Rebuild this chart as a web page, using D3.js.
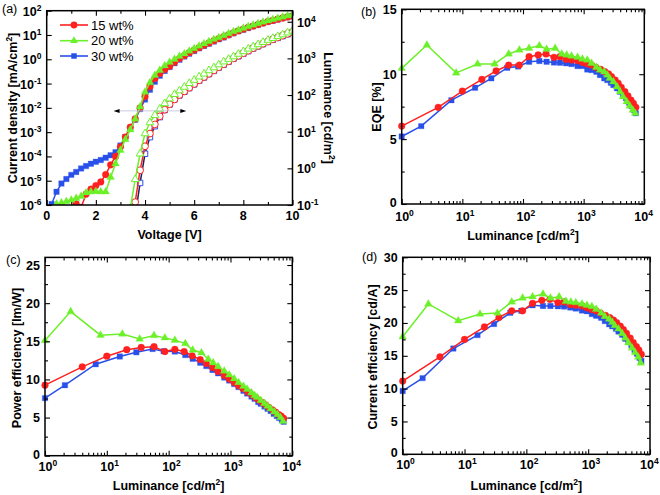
<!DOCTYPE html>
<html><head><meta charset="utf-8">
<script src="https://cdn.jsdelivr.net/npm/d3@7"></script>
<style>
body{margin:0;background:#fff;}
svg{display:block;font-family:"Liberation Sans",Arial,Helvetica,sans-serif;}
</style></head><body>
<svg id="chart" width="660" height="495"></svg>
<script>
// ---------------- DATA ----------------
const seriesNames = ["15 wt%", "20 wt%", "30 wt%"];

// Panel (a): voltage steps (V)
const voltage = [0.2,0.4,0.6,0.8,1.0,1.2,1.4,1.6,1.8,2.0,2.2,2.4,2.6,2.8,3.0,3.2,3.4,3.6,3.8,4.0,4.2,4.4,4.6,4.8,5.0,5.2,5.4,5.6,5.8,6.0,6.2,6.4,6.6,6.8,7.0,7.2,7.4,7.6,7.8,8.0,8.2,8.4,8.6,8.8,9.0,9.2,9.4,9.6,9.8,10.0];
// Current density (mA/cm2)
const jRed = [null,null,null,null,null,1.1e-6,8e-7,2.8e-6,4.5e-6,6.3e-6,8.9e-6,1.8e-5,4.5e-5,1.0e-4,2.5e-4,6.3e-4,1.6e-3,3.5e-3,1.0e-2,2.9e-2,7.6e-2,0.16,0.26,0.38,0.52,0.76,1.07,1.41,1.86,2.4,3.0,3.8,4.7,5.8,7.1,8.5,10.2,12.3,14.8,17.4,20.4,23.4,26.9,30.9,35.5,39.8,44.7,50.1,55.0,60.0];
const jGreen = [null,1.1e-6,1.25e-6,1.4e-6,1.6e-6,1.9e-6,2.3e-6,3.2e-6,3.5e-6,3.6e-6,3.5e-6,3.5e-6,1.4e-5,5.0e-5,1.8e-4,5.0e-4,1.26e-3,3.5e-3,1.1e-2,4.5e-2,0.11,0.22,0.35,0.54,0.76,1.0,1.32,1.7,2.2,2.8,3.5,4.4,5.4,6.6,7.9,9.5,11.5,13.8,16.2,19.1,22.4,25.7,29.5,33.9,38.9,43.7,49.0,55.0,61.7,69.2];
const jBlue = [1.1e-6,3.5e-6,7.6e-6,1.17e-5,1.74e-5,2.3e-5,3.2e-5,4.0e-5,5.0e-5,6.0e-5,7.1e-5,8.9e-5,1.12e-4,1.5e-4,2.8e-4,6.3e-4,1.4e-3,3.2e-3,8.9e-3,2.2e-2,5.6e-2,0.12,0.21,0.33,0.48,0.69,0.95,1.29,1.7,2.19,2.82,3.55,4.37,5.37,6.61,7.94,9.77,11.7,14.1,16.6,19.5,22.9,26.3,30.2,34.7,38.9,43.7,49.0,55.0,61.7];
// Luminance vs voltage (cd/m2)
const lvRed = [null,null,null,null,null,null,null,null,null,null,null,null,null,null,null,null,null,0.12,0.89,4.0,8.9,15.8,26.3,39.8,56.2,75.9,100,126,158,200,251,309,380,468,575,692,832,1000,1175,1380,1622,1905,2188,2512,2884,3311,3715,4169,4677,5248];
const lvGreen = [null,null,null,null,null,null,null,null,null,null,null,null,null,null,null,null,0.08,0.5,2.5,8.9,17.8,28.2,41.7,58.9,79.4,105,132,166,209,257,316,380,468,562,676,813,955,1122,1318,1549,1820,2089,2399,2754,3162,3548,3981,4467,5012,5623];
const lvBlue = [null,null,null,null,null,null,null,null,null,null,null,null,null,null,null,null,null,0.05,0.4,2.5,7.1,14.1,25,39,55,75.9,97.7,123,155,195,245,302,372,457,562,676,813,977,1148,1349,1585,1862,2138,2455,2818,3236,3631,4074,4571,5129];

// Panels (b)-(d): luminance (cd/m2) per series
const lumRed = [1,4.0,10,21,36,58,87,126,178,240,324,407,513,631,794,955,1148,1349,1585,1905,2239,2570,2884,3311,3715,4169,4786,5370,6026,6607,7244];
const lumGreen = [1,2.6,7.9,17.8,34,58,87,126,186,245,339,437,525,631,794,955,1148,1349,1622,1862,2188,2455,2692,3090,3548,3981,4467,5129,5754,6457,7079];
const lumBlue = [1,2.1,6.6,16.2,30,55,83,126,186,245,324,407,513,631,794,955,1148,1349,1622,1862,2188,2455,2818,3090,3548,3981,4467,5012,5623,6166,6761,7244];
// EQE (%)
const eqeRed = [6.0,7.45,8.7,9.6,10.25,10.7,10.7,11.35,11.48,11.56,11.3,11.35,11.15,11.09,11.04,10.91,10.79,10.7,10.53,10.37,10.19,10.02,9.81,9.55,9.3,8.99,8.65,8.32,8.01,7.76,7.45];
const eqeGreen = [10.45,12.25,10.1,10.79,10.79,11.56,11.86,12.0,12.2,11.92,12.0,11.56,11.48,11.4,11.3,11.17,11.09,10.84,10.53,10.32,10.19,9.94,9.68,9.42,9.04,8.65,8.27,7.88,7.55,7.24,6.99];
const eqeBlue = [5.2,6.0,8.0,8.95,9.68,10.5,10.6,10.96,11.02,10.96,10.91,10.89,10.84,10.79,10.63,10.63,10.37,10.32,10.19,9.94,9.68,9.55,9.35,9.17,8.91,8.65,8.4,8.14,7.8,7.55,7.24,6.99];
// Power efficiency (lm/W)
const peRed = [9.25,11.65,13.05,13.9,14.2,14.3,13.65,13.95,13.65,13.1,12.6,12.1,11.55,11.05,10.5,10.05,9.6,9.2,8.8,8.35,7.95,7.6,7.3,6.95,6.65,6.35,6.0,5.7,5.4,5.2,4.9];
const peGreen = [15.1,18.9,15.8,15.95,15.3,15.75,15.45,15.15,14.7,13.85,13.5,12.65,12.2,11.7,11.1,10.6,10.1,9.6,9.1,8.7,8.25,7.9,7.65,7.25,6.85,6.5,6.15,5.75,5.4,5.0,4.5];
const peBlue = [7.55,9.25,12.0,13.0,13.55,14.0,13.7,13.65,13.2,12.7,12.2,11.75,11.25,10.8,10.25,9.85,9.4,9.0,8.5,8.15,7.75,7.45,7.05,6.8,6.45,6.15,5.85,5.5,5.2,4.95,4.7,4.45];
// Current efficiency (cd/A)
const ceRed = [11.15,14.85,17.5,19.4,20.85,21.85,21.85,23.0,23.45,23.6,23.1,23.2,22.8,22.7,22.6,22.3,22.05,21.85,21.5,21.15,20.8,20.45,20.05,19.5,19.0,18.4,17.7,17.0,16.4,15.85,15.2];
const ceGreen = [17.9,22.9,20.35,21.35,21.5,23.2,23.8,24.0,24.4,23.8,24.0,23.3,23.2,23.1,22.9,22.7,22.5,22.1,21.5,21.0,20.6,20.1,19.6,19.1,18.4,17.7,17.0,16.2,15.5,14.8,13.9];
const ceBlue = [9.65,11.6,16.1,18.15,19.85,21.55,21.85,22.7,22.6,22.6,22.55,22.5,22.35,22.2,21.9,21.8,21.35,21.1,20.8,20.3,19.8,19.5,19.1,18.7,18.2,17.6,17.1,16.6,15.9,15.3,14.7,14.2];

// tick labels
const voltTicks = [0,2,4,6,8,10];
const jExps = [-6,-5,-4,-3,-2,-1,0,1,2];
const lExps = [-1,0,1,2,3,4];
const lumExps = [0,1,2,3,4];

// ---------------- STYLE ----------------
const COL = {red:"#ff2020", green:"#6cf02a", blue:"#2a50ea"};
const svg = d3.select("#chart");
const FS = 12.5;

function supText(g, x, y, base, exp, anchor) {
  const t = g.append("text").attr("x", x).attr("y", y)
    .attr("font-size", FS).attr("font-weight", "bold").attr("text-anchor", anchor||"start").attr("fill","#000");
  t.append("tspan").text(base);
  t.append("tspan").attr("dy", -5).attr("font-size", 8.5).text(exp);
  return t;
}

function addMarker(sel, shape) {
  const sym = {circle: d3.symbolCircle, tri: d3.symbolTriangle, sq: d3.symbolSquare}[shape];
  const size = {circle: 36, tri: 26, sq: 30}[shape];
  return sel.attr("d", d3.symbol().type(sym).size(size));
}

function drawSeries(g, xs, ys, xS, yS, color, shape, open, lineColor) {
  const pts = xs.map((x,i)=>({x, y: ys[i]})).filter(d => d.y != null);
  g.append("path").datum(pts)
    .attr("d", d3.line().x(d=>xS(d.x)).y(d=>yS(d.y)))
    .attr("fill","none").attr("stroke", lineColor || color).attr("stroke-width", 1.5);
  addMarker(g.selectAll(null).data(pts).join("path"), shape)
    .attr("transform", d => `translate(${xS(d.x)},${yS(d.y)})`)
    .attr("fill", open ? "#fff" : color)
    .attr("stroke", color).attr("stroke-width", open ? 1 : 0.3);
}

let clipId = 0;
function clipGroup(x0, y0, x1, y1) {
  const id = "clip" + (clipId++);
  svg.append("clipPath").attr("id", id).append("rect")
    .attr("x", x0).attr("y", y0).attr("width", x1-x0).attr("height", y1-y0);
  return svg.append("g").attr("clip-path", `url(#${id})`);
}

function frame(x0,y0,x1,y1){
  svg.append("rect").attr("x",x0).attr("y",y0).attr("width",x1-x0).attr("height",y1-y0)
    .attr("fill","none").attr("stroke","#000").attr("stroke-width",1.5);
}

function styleAxis(g){ g.select(".domain").remove(); g.selectAll("line").attr("stroke","#000").attr("stroke-width",1.1); }

function title(x, y, txt, rot, exp) {
  const t = svg.append("text").attr("font-size", FS).attr("font-weight","bold").attr("text-anchor","middle")
    .attr("transform", `translate(${x},${y}) rotate(${rot})`).attr("dy", rot===0 ? 0 : "0.35em");
  if (exp) {
    t.append("tspan").text(txt[0]);
    t.append("tspan").attr("dy",-5).attr("font-size",8.5).text(exp);
    t.append("tspan").attr("dy",5).text(txt[1]);
  } else t.text(txt);
}

function tag(x,y,txt){ svg.append("text").attr("x",x).attr("y",y).attr("font-size",12.5).text(txt); }

// ---------------- PANEL (a) ----------------
(function(){
  const x0=46.7, x1=292.5, y0=10.7, y1=205;
  const x = d3.scaleLinear().domain([0,10]).range([x0,x1]);
  const yJ = d3.scaleLog().domain([1e-6,1e2]).range([y1,y0]);
  const yL = d3.scaleLog().domain([0.1,2e4]).range([y1,y0]);

  const g = clipGroup(x0,y0,x1,y1);
  // luminance (open)
  drawSeries(g, voltage, lvBlue, x, yL, COL.blue, "sq", true, "#202060");
  drawSeries(g, voltage, lvRed, x, yL, COL.red, "circle", true);
  drawSeries(g, voltage, lvGreen, x, yL, COL.green, "tri", true);
  // current density (filled)
  drawSeries(g, voltage, jBlue, x, yJ, COL.blue, "sq", false);
  drawSeries(g, voltage, jRed, x, yJ, COL.red, "circle", false);
  drawSeries(g, voltage, jGreen, x, yJ, COL.green, "tri", false);

  // arrows
  const ay = yJ(7.5e-3);
  svg.append("line").attr("x1",x(2.85)).attr("x2",x(5.55)).attr("y1",ay).attr("y2",ay)
    .attr("stroke","#b8bcd8").attr("stroke-width",0.8);
  svg.append("path").attr("d",`M${x(2.72)},${ay} l6,-2 l0,4 z`).attr("fill","#000");
  svg.append("path").attr("d",`M${x(5.68)},${ay} l-6,-2 l0,4 z`).attr("fill","#000");

  // axes
  const minorV = [1,3,5,7,9];
  [[d3.axisBottom, y1],[d3.axisTop, y0]].forEach(([ax, yy])=>{
    svg.append("g").attr("transform",`translate(0,${yy})`).call(ax(x).tickValues(voltTicks).tickSize(-5).tickFormat("")).call(styleAxis);
    svg.append("g").attr("transform",`translate(0,${yy})`).call(ax(x).tickValues(minorV).tickSize(-3).tickFormat("")).call(styleAxis);
  });
  svg.append("g").attr("transform",`translate(${x0},0)`).call(d3.axisLeft(yJ).tickValues(jExps.map(e=>Math.pow(10,e))).tickSize(-5).tickFormat("")).call(styleAxis);
  svg.append("g").attr("transform",`translate(${x1},0)`).call(d3.axisRight(yL).tickValues(lExps.map(e=>Math.pow(10,e))).tickSize(-5).tickFormat("")).call(styleAxis);
  frame(x0,y0,x1,y1);

  voltTicks.forEach(v => svg.append("text").attr("x",x(v)).attr("y",220).attr("text-anchor","middle")
    .attr("font-size",FS).attr("font-weight","bold").text(v));
  jExps.forEach(e => supText(svg, 41.5, yJ(Math.pow(10,e))+5, "10", e<0 ? "-"+(-e) : String(e), "end"));
  lExps.forEach(e => supText(svg, 297, yL(Math.pow(10,e))+5, "10", e<0 ? "-"+(-e) : String(e), "start"));

  title((x0+x1)/2, 239, "Voltage [V]", 0);
  title(13, 108, ["Current density [mA/cm","]"], -90, "2");
  title(328.5, 108, ["Luminance [cd/m","]"], 90, "2");
  tag(2, 13, "(a)");

  // legend
  const legCols = [COL.red, COL.green, COL.blue], legShapes = ["circle","tri","sq"], legY = [25, 40.7, 56];
  seriesNames.forEach((nm,i)=>{
    svg.append("line").attr("x1",60).attr("x2",88).attr("y1",legY[i]).attr("y2",legY[i]).attr("stroke",legCols[i]).attr("stroke-width",1.6);
    addMarker(svg.append("path"), legShapes[i]).attr("transform",`translate(74,${legY[i]})`).attr("fill",legCols[i]);
    svg.append("text").attr("x",91).attr("y",legY[i]+4.5).attr("font-size",13).text(nm);
  });
})();

// ---------------- PANELS (b)-(d) ----------------
function effPanel(c){
  const x = d3.scaleLog().domain([1,1e4]).range([c.x0,c.x1]);
  const y = d3.scaleLinear().domain([0,c.ymax]).range([c.y1,c.y0]);
  const g = clipGroup(c.x0-4, c.y0, c.x1+4, c.y1);
  drawSeries(g, lumBlue, c.blue, x, y, COL.blue, "sq", false);
  drawSeries(g, lumRed, c.red, x, y, COL.red, "circle", false);
  drawSeries(g, lumGreen, c.green, x, y, COL.green, "tri", false);

  const major = lumExps.map(e=>Math.pow(10,e));
  const minor = x.ticks().filter(t => !major.includes(t));
  [[d3.axisBottom, c.y1],[d3.axisTop, c.y0]].forEach(([ax, yy])=>{
    svg.append("g").attr("transform",`translate(0,${yy})`).call(ax(x).tickValues(major).tickSize(-5).tickFormat("")).call(styleAxis);
    svg.append("g").attr("transform",`translate(0,${yy})`).call(ax(x).tickValues(minor).tickSize(-3).tickFormat("")).call(styleAxis);
  });
  const ymaj = c.yTicks, ymin = c.yMinor;
  [[d3.axisLeft, c.x0],[d3.axisRight, c.x1]].forEach(([ax, xx])=>{
    svg.append("g").attr("transform",`translate(${xx},0)`).call(ax(y).tickValues(ymaj).tickSize(-5).tickFormat("")).call(styleAxis);
    svg.append("g").attr("transform",`translate(${xx},0)`).call(ax(y).tickValues(ymin).tickSize(-3).tickFormat("")).call(styleAxis);
  });
  frame(c.x0,c.y0,c.x1,c.y1);

  lumExps.forEach(e => supText(svg, x(Math.pow(10,e)) - (e === 4 ? 10 : 6.5), c.xlabY, "10", String(e), "start"));
  ymaj.forEach(v => svg.append("text").attr("x",c.x0-5).attr("y",y(v)+ (v === 0 ? 3 : 4.5)).attr("text-anchor","end")
    .attr("font-size",FS).attr("font-weight","bold").text(v));
  title((c.x0+c.x1)/2, c.xtitleY, ["Luminance [cd/m","]"], 0, "2");
  title(c.ytitleX, c.ytitleY, c.ytitle, -90);
  tag(c.tagX, c.tagY, c.tag);
}

effPanel({x0:401.7, x1:644.3, y0:9.3, y1:204, ymax:15, yTicks:[0,5,10,15], yMinor:[2.5,7.5,12.5],
  red:eqeRed, green:eqeGreen, blue:eqeBlue, xlabY:221, xtitleY:240, ytitle:"EQE [%]", ytitleX:377, ytitleY:107,
  tag:"(b)", tagX:361, tagY:16});
effPanel({x0:45, x1:292.3, y0:257.4, y1:455.7, ymax:26, yTicks:[0,5,10,15,20,25], yMinor:[2.5,7.5,12.5,17.5,22.5],
  red:peRed, green:peGreen, blue:peBlue, xlabY:471, xtitleY:490, ytitle:"Power efficiency [lm/W]", ytitleX:17, ytitleY:358,
  tag:"(c)", tagX:6, tagY:264});
effPanel({x0:402.7, x1:650, y0:257.3, y1:454.3, ymax:30, yTicks:[0,5,10,15,20,25,30], yMinor:[2.5,7.5,12.5,17.5,22.5,27.5],
  red:ceRed, green:ceGreen, blue:ceBlue, xlabY:469, xtitleY:490, ytitle:"Current efficiency [cd/A]", ytitleX:373, ytitleY:357,
  tag:"(d)", tagX:362, tagY:261});
</script>
</body></html>
